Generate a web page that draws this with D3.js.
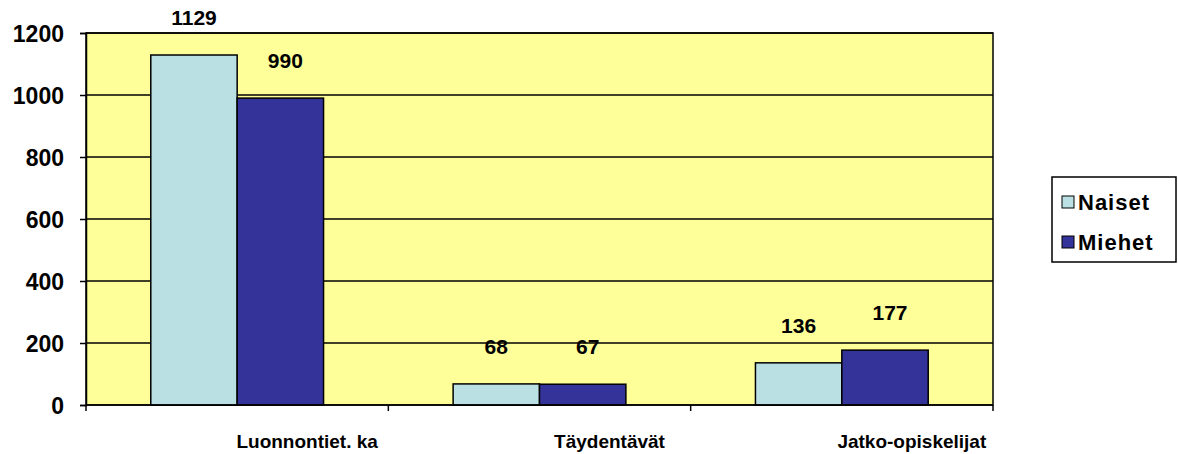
<!DOCTYPE html>
<html>
<head>
<meta charset="utf-8">
<script src="https://cdn.jsdelivr.net/npm/d3@7"></script>
<style>
  html, body { margin: 0; padding: 0; background: #fff; }
  svg text { font-family: "Liberation Sans", Arial, sans-serif; font-weight: bold; fill: #000; }
</style>
</head>
<body>
<div id="viz"></div>
<script>
const categories = ["Luonnontiet. ka", "Täydentävät", "Jatko-opiskelijat"];
const seriesNames = ["Naiset", "Miehet"];
const naiset = [1129, 68, 136];
const miehet = [990, 67, 177];
const yTicks = [0, 200, 400, 600, 800, 1000, 1200];
const colors = ["#BBE0E3", "#333399"];

const width = 1178, height = 454;
const plot = { left: 86, right: 993, top: 33, bottom: 405 };
const font = "'Liberation Sans', Arial, sans-serif";

const svg = d3.select("#viz").append("svg")
  .attr("width", width).attr("height", height);

const x = d3.scaleBand().domain(categories).range([plot.left, plot.right]).paddingInner(0).paddingOuter(0);
const xs = d3.scaleBand().domain(seriesNames).range([0, x.bandwidth()]).paddingInner(0).paddingOuter(0.75);
const y = d3.scaleLinear().domain([0, 1200]).range([plot.bottom, plot.top]);

// plot background
svg.append("rect")
  .attr("x", plot.left).attr("y", plot.top)
  .attr("width", plot.right - plot.left).attr("height", plot.bottom - plot.top)
  .attr("fill", "#FFFF99").attr("stroke", "#000").attr("stroke-width", 1.5);

// gridlines
svg.append("g").selectAll("line").data(yTicks.slice(1)).join("line")
  .attr("x1", plot.left).attr("x2", plot.right)
  .attr("y1", d => y(d)).attr("y2", d => y(d))
  .attr("stroke", "#000").attr("stroke-width", 1.3);

// bars
const rows = categories.map((c, i) => ({ cat: c, vals: [naiset[i], miehet[i]] }));
const grp = svg.append("g").selectAll("g").data(rows).join("g")
  .attr("transform", d => `translate(${x(d.cat)},0)`);

grp.selectAll("rect").data(d => d.vals.map((v, j) => ({ s: seriesNames[j], v, j }))).join("rect")
  .attr("x", d => xs(d.s)).attr("width", xs.bandwidth())
  .attr("y", d => y(d.v)).attr("height", d => y(0) - y(d.v))
  .attr("fill", d => colors[d.j]).attr("stroke", "#000").attr("stroke-width", 1.5);

grp.selectAll("text").data(d => d.vals.map((v, j) => ({ s: seriesNames[j], v, j }))).join("text")
  .attr("x", d => xs(d.s) + xs.bandwidth() / 2 + (d.j ? 5 : 0))
  .attr("y", d => y(d.v) - 30)
  .attr("text-anchor", "middle")
  .style("font-size", "21px")
  .text(d => d.v);

// y axis
const yAxis = d3.axisLeft(y).tickValues(yTicks).tickFormat(d3.format("d")).tickSize(6).tickPadding(16);
const ya = svg.append("g").attr("transform", `translate(${plot.left},0)`).call(yAxis);
ya.select(".domain").attr("stroke", "#000").attr("stroke-width", 1.5);
ya.selectAll(".tick line").attr("stroke", "#000").attr("stroke-width", 1.5);
ya.selectAll("text").style("font-size", "23px").attr("dy", "0.36em")
  .style("font-family", font).style("font-weight", "bold").attr("fill", "#000");

// x axis
const xa = svg.append("g").attr("transform", `translate(0,${plot.bottom})`);
const bounds = categories.map(c => x(c)).concat([x(categories[categories.length - 1]) + x.bandwidth()]);
xa.append("line").attr("x1", plot.left).attr("x2", plot.right).attr("stroke", "#000").attr("stroke-width", 1.5);
xa.selectAll("line.tk").data(bounds).join("line").attr("class", "tk")
  .attr("x1", d => d).attr("x2", d => d).attr("y1", 0).attr("y2", 6)
  .attr("stroke", "#000").attr("stroke-width", 1.5);
xa.selectAll("text").data(categories).join("text")
  .attr("x", d => x(d) + x.bandwidth() / 2 + 70)
  .attr("y", 43)
  .attr("text-anchor", "middle")
  .style("font-size", "19px")
  .text(d => d);

// legend
const lg = svg.append("g").attr("transform", "translate(1052,177)");
lg.append("rect").attr("width", 124).attr("height", 85)
  .attr("fill", "#fff").attr("stroke", "#000").attr("stroke-width", 1.5);
const li = lg.selectAll("g").data(seriesNames).join("g")
  .attr("transform", (d, i) => `translate(10,${25 + i * 40})`);
li.append("rect").attr("x", 0).attr("y", -6).attr("width", 12).attr("height", 12)
  .attr("fill", (d, i) => colors[i]).attr("stroke", "#000").attr("stroke-width", 1);
li.append("text").attr("x", 16).attr("y", 0).attr("dy", "0.36em")
  .style("font-size", "22px").style("letter-spacing", "1px").text(d => d);
</script>
</body>
</html>
